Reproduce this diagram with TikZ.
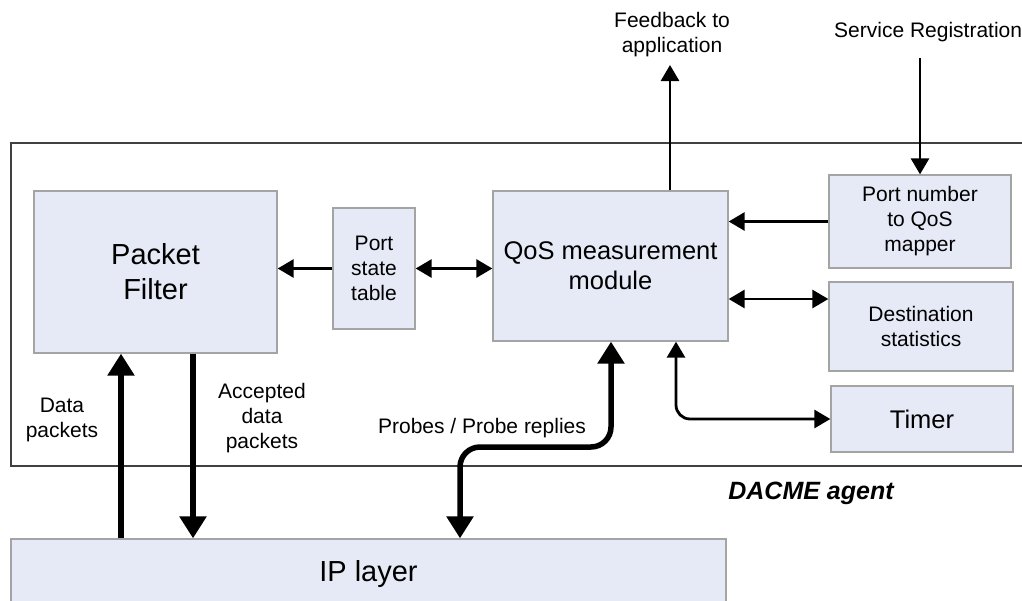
\documentclass[tikz,border=0pt]{standalone}
\usepackage{fontspec}
\setmainfont{Liberation Sans}
\usetikzlibrary{arrows.meta}
\definecolor{boxfill}{HTML}{E6EAF6}
\definecolor{boxline}{HTML}{A4A4A4}
\begin{document}
\begin{tikzpicture}[x=1pt,y=-1pt,
  blk/.style={draw=boxline, fill=boxfill, line width=1.3pt, align=center, inner sep=0pt},
  smallf/.style={font=\fontsize{21}{25}\selectfont},
  midf/.style={font=\fontsize{25.5}{30}\selectfont},
  bigf/.style={font=\fontsize{29}{35}\selectfont},
  labelf/.style={align=center, inner sep=0pt, font=\fontsize{21}{25}\selectfont},
  thinhead/.style={Triangle[length=16pt,width=18pt]},
  thickhead/.style={Triangle[length=22pt,width=26pt]},
  thinarr/.style={line width=2.8pt, -{Triangle[length=16pt,width=18pt]}},
  thinboth/.style={line width=2.8pt, {Triangle[length=16pt,width=18pt]}-{Triangle[length=16pt,width=18pt]}},
  thickarr/.style={line width=5.5pt, -{Triangle[length=22pt,width=26pt]}},
  thickboth/.style={line width=5.5pt, {Triangle[length=22pt,width=26pt]}-{Triangle[length=22pt,width=26pt]}}
]
\clip (0,0) rectangle (1022,600);
\fill[white] (0,0) rectangle (1022,600);
% DACME agent frame
\draw[line width=1.6pt, draw=black!75] (11,143) rectangle (1040,466);

\node[blk, bigf, minimum width=243pt, minimum height=162pt] (pf) at (155.5,272) {Packet\\Filter};
\node[blk, smallf, minimum width=82pt, minimum height=121pt] (pst) at (374,268.5) {Port\\state\\table};
\node[blk, midf, minimum width=235pt, minimum height=150pt] (qos) at (610.5,266) {QoS measurement\\module};
\node[blk, smallf, minimum width=182pt, minimum height=93pt] (pnm) at (920,221.5) {Port number\\to QoS\\mapper};
\node[blk, smallf, minimum width=184pt, minimum height=89pt] (dst) at (921,326.5) {Destination\\statistics};
\node[blk, midf, minimum width=182pt, minimum height=66pt] (tmr) at (922,419) {Timer};
\node[blk, bigf, minimum width=715pt, minimum height=70pt] (ip) at (368.5,574) {IP layer};

% labels
\node[labelf] (fb) at (672,35) {Feedback to\\application};
\node[labelf, anchor=west] (sr) at (834,32) {Service Registration};
\node[labelf] (dp) at (62,419.5) {Data\\packets};
\node[labelf] (adp) at (262,418) {Accepted\\data\\packets};
\node[labelf] (pr) at (482,428) {Probes / Probe replies};
\node[inner sep=0pt, font=\fontsize{25}{30}\selectfont\bfseries\itshape] (dacme) at (811,493) {DACME agent};

\coordinate (fbtip) at (670,65);
\coordinate (srfoot) at (920,58);

% connectors
\draw[thinarr] (pst.west) -- (pst.west -| pf.east);
\draw[thinboth] (pst.east) -- (pst.east -| qos.west);
\draw[thinarr] (pnm.west) -- (pnm.west -| qos.east);
\draw[thinboth] (dst.west |- 0,299) -- (qos.east |- 0,299);
\draw[thinarr] (qos.north -| fbtip) -- (fbtip);
\draw[thinarr] (srfoot) -- (pnm.north);
\draw[thinboth, rounded corners=14pt] (qos.south -| 676,0) |- (tmr.west);

\draw[thickarr] (ip.north -| 121,0) -- (pf.south -| 121,0);
\draw[thickarr] (pf.south -| 193,0) -- (ip.north -| 193,0);
\draw[thickboth, rounded corners=20pt] (ip.north -| 460,0) |- (611,447) -- (qos.south -| 611,0);
\end{tikzpicture}
\end{document}
